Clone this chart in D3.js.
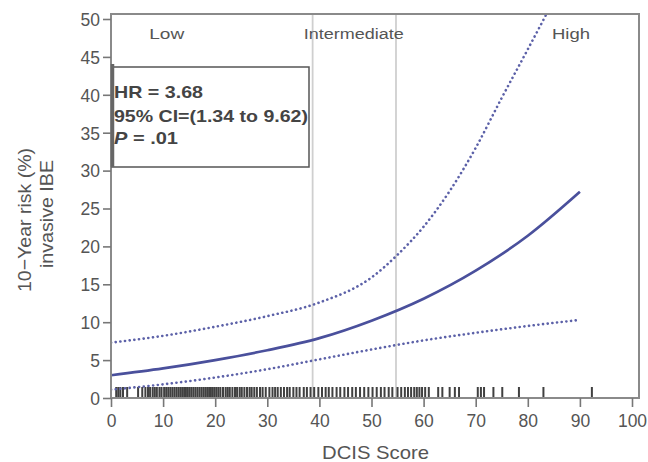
<!DOCTYPE html>
<html lang="en">
  <head>
    <meta charset="UTF-8" />
    <title>DCIS Score</title>
    <style>
      body { margin: 0; background: #fff; }
      text { font-family: "Liberation Sans", Arial, sans-serif; }
      .domain { display: none; }
    </style>
  </head>
  <body>
    <svg></svg>
    <script src="https://cdnjs.cloudflare.com/ajax/libs/d3/7.8.5/d3.min.js"></script>
    <script>
      // values
      const scores = [0, 10, 20, 30, 40, 50, 60, 70, 80, 90];
      const risk = [3.0, 3.9, 5.0, 6.3, 7.9, 10.2, 13.1, 16.8, 21.4, 27.2];
      const lowerScores = [0, 10, 20, 30, 40, 50, 60, 70, 80, 90];
      const lower = [1.1, 1.8, 2.7, 3.8, 5.1, 6.4, 7.6, 8.6, 9.5, 10.3];
      const upperScores = [0, 10, 20, 30, 40, 50, 55, 60, 65, 70, 75, 80, 85];
      const upper = [7.3, 8.2, 9.4, 10.8, 12.6, 15.9, 18.9, 22.6, 27.3, 33.0, 39.6, 46.0, 52.5];
      const cutpoints = [38.7, 54.7];
      const groups = [
        { name: "Low", x: 10.7, w: 35 },
        { name: "Intermediate", x: 46.6, w: 100 },
        { name: "High", x: 88.3, w: 38 }
      ];
      const legendLines = ["HR = 3.68", "95% CI=(1.34 to 9.62)", ".01"];
      const xTicks = [0, 10, 20, 30, 40, 50, 60, 70, 80, 90, 100];
      const yTicks = [0, 5, 10, 15, 20, 25, 30, 35, 40, 45, 50];
      const rug = [
        1, 1.4, 1.8, 2.3, 3.1, 5.2, 6, 6.6, 7.1, 7.5, 8, 8.4, 8.8, 9.3, 9.7,
        10.2, 10.6, 11, 11.4, 11.8, 12.2, 12.6, 13, 13.4, 13.8, 14.2, 14.6, 15,
        15.4, 15.8, 16.2, 16.6, 17, 17.4, 17.8, 18.2, 18.6, 19, 19.4, 19.8,
        20.2, 20.6, 21, 21.5, 22, 22.4, 22.8, 23.3, 23.8, 24.2, 24.7, 25.1,
        25.6, 26.1, 26.6, 27, 27.5, 28, 28.6, 29.1, 29.7, 30.4, 31, 31.5, 32,
        32.6, 33.2, 33.8, 34.3, 35, 35.6, 36.2, 37, 37.6, 38.3, 39, 39.8, 40.5,
        41.2, 41.8, 42.5, 43.3, 44, 44.8, 45.5, 46.3, 47, 47.8, 48.6, 49.4,
        50.2, 51, 51.8, 52.5, 53.3, 54, 55, 55.7, 56.4, 57, 57.6, 58.2, 58.7,
        59.2, 59.7, 60.3, 61, 62.8, 63.6, 65, 66, 66.8, 70.4, 71, 71.6, 73.4,
        75.1, 78.3, 83, 92.3
      ];

      const width = 648, height = 462;
      const svg = d3.select("svg").attr("width", width).attr("height", height);

      const x = d3.scaleLinear().domain([0, 100]).range([111, 632]);
      const y = d3.scaleLinear().domain([0, 50]).range([398, 19]);
      const boxTop = 14, boxRight = 639;

      svg.append("clipPath").attr("id", "clippy")
        .append("rect")
        .attr("x", 111).attr("y", boxTop)
        .attr("width", boxRight - 111).attr("height", 398 - boxTop);

      // cutpoint lines
      svg.selectAll(".cut").data(cutpoints).enter().append("line")
        .attr("x1", d => x(d)).attr("x2", d => x(d))
        .attr("y1", boxTop).attr("y2", y(0))
        .attr("stroke", "#cfcfcf").attr("stroke-width", 1.8);

      // group labels
      svg.selectAll(".grp").data(groups).enter().append("text")
        .attr("x", d => x(d.x) - d.w / 2).attr("y", 39)
        .attr("textLength", d => d.w).attr("lengthAdjust", "spacingAndGlyphs")
        .attr("font-size", 15.5).attr("fill", "#555")
        .text(d => d.name);

      // rug
      svg.append("g").selectAll("line").data(rug).enter().append("line")
        .attr("x1", d => x(d)).attr("x2", d => x(d))
        .attr("y1", 387).attr("y2", 399)
        .attr("stroke", "#111").attr("stroke-width", 2).attr("opacity", 0.8);

      // curves
      const line = d3.line().curve(d3.curveMonotoneX);
      const plot = svg.append("g").attr("clip-path", "url(#clippy)");
      plot.append("path")
        .attr("d", line(upperScores.map((s, i) => [x(s), y(upper[i])])))
        .attr("fill", "none").attr("stroke", "#5c61a8").attr("stroke-width", 2.6)
        .attr("stroke-dasharray", "0.1,4.6").attr("stroke-linecap", "round");
      plot.append("path")
        .attr("d", line(lowerScores.map((s, i) => [x(s), y(lower[i])])))
        .attr("fill", "none").attr("stroke", "#5c61a8").attr("stroke-width", 2.6)
        .attr("stroke-dasharray", "0.1,4.6").attr("stroke-linecap", "round");
      plot.append("path")
        .attr("d", line(scores.map((s, i) => [x(s), y(risk[i])])))
        .attr("fill", "none").attr("stroke", "#4a509c").attr("stroke-width", 2.7);

      // box
      svg.append("path")
        .attr("d", `M111,${y(0)}V${boxTop}H${boxRight}V${y(0)}H111`)
        .attr("fill", "none").attr("stroke", "#8a8a8a").attr("stroke-width", 2);

      // axes
      const xAxis = svg.append("g")
        .attr("transform", `translate(0,${y(0)})`)
        .call(d3.axisBottom(x).tickValues(xTicks).tickSize(9).tickPadding(8));
      const yAxis = svg.append("g")
        .attr("transform", "translate(111,0)")
        .call(d3.axisLeft(y).tickValues(yTicks).tickSize(8).tickPadding(3));
      [xAxis, yAxis].forEach(a => {
        a.selectAll("line").attr("stroke", "#777").attr("stroke-width", 1.6);
        a.selectAll("text").attr("fill", "#555").attr("font-size", 17.5)
          .style("font-family", '"Liberation Sans", Arial, sans-serif');
      });
      yAxis.selectAll("text").attr("dy", "0.36em");

      svg.append("text")
        .attr("x", 322).attr("y", 459)
        .attr("textLength", 107).attr("lengthAdjust", "spacingAndGlyphs")
        .attr("font-size", 18.5).attr("fill", "#555")
        .text("DCIS Score");

      const yTitle = svg.append("text")
        .attr("transform", "translate(0,220) rotate(-90)")
        .attr("font-size", 19).attr("fill", "#555");
      yTitle.append("tspan").attr("x", -72).attr("y", 31)
        .attr("textLength", 144).attr("lengthAdjust", "spacingAndGlyphs")
        .text("10\u2212Year risk (%)");
      yTitle.append("tspan").attr("x", -48).attr("y", 53)
        .attr("textLength", 108).attr("lengthAdjust", "spacingAndGlyphs")
        .text("invasive IBE");

      // legend box
      svg.append("rect")
        .attr("x", 112).attr("y", 67).attr("width", 197).attr("height", 100)
        .attr("fill", "#fff").attr("stroke", "#555").attr("stroke-width", 1.5);
      svg.append("line")
        .attr("x1", 112.5).attr("x2", 112.5).attr("y1", 64).attr("y2", 167)
        .attr("stroke", "#666").attr("stroke-width", 3.5);
      const leg = svg.append("g").attr("font-size", 17).attr("font-weight", "bold")
        .attr("fill", "#444");
      leg.append("text").attr("x", 114).attr("y", 98)
        .attr("textLength", 89).attr("lengthAdjust", "spacingAndGlyphs")
        .text(legendLines[0]);
      leg.append("text").attr("x", 114).attr("y", 122)
        .attr("textLength", 194).attr("lengthAdjust", "spacingAndGlyphs")
        .text(legendLines[1]);
      const p = leg.append("text").attr("x", 114).attr("y", 144)
        .attr("textLength", 64).attr("lengthAdjust", "spacingAndGlyphs");
      p.append("tspan").attr("font-style", "italic").text("P");
      p.append("tspan").text(" = " + legendLines[2]);
    </script>
  </body>
</html>
